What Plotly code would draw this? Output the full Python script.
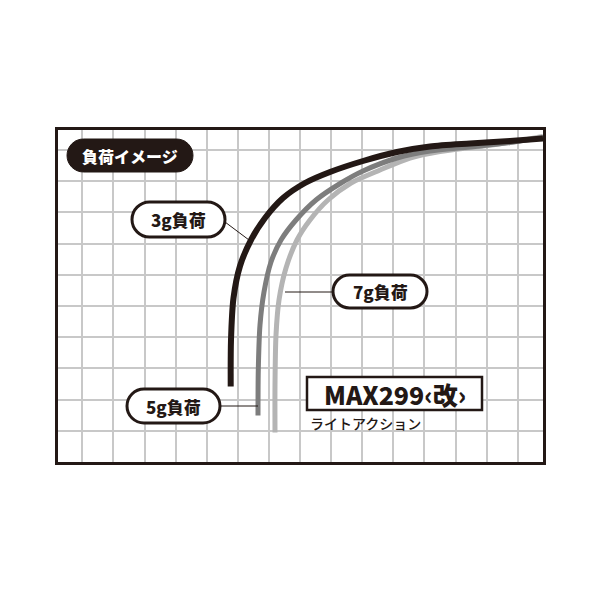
import plotly.graph_objects as go

# rod bend (x, y in picture pixels, y grows downward)
load_names = ["3g負荷", "5g負荷", "7g負荷"]

x_3g = [230.7, 231.0, 233.5, 240.0, 251.0, 265.0, 283.0, 305.0, 330.0, 363.0,
        397.0, 430.0, 470.0, 510.0, 543.0]
y_3g = [386.5, 340.0, 298.0, 266.0, 240.0, 218.0, 198.0, 183.0, 172.0, 161.0,
        152.0, 146.5, 143.5, 141.0, 138.5]

x_5g = [258.0, 258.3, 260.0, 264.0, 271.0, 281.0, 296.0, 316.0, 341.0, 363.0,
        397.0, 430.0, 470.0, 510.0, 543.0]
y_5g = [415.5, 370.0, 325.0, 292.0, 262.0, 240.0, 220.0, 200.0, 183.0, 171.0,
        158.0, 151.0, 147.0, 142.5, 137.5]

x_7g = [275.0, 275.0, 276.0, 279.0, 286.0, 297.0, 310.0, 328.0, 351.0, 380.0,
        410.0, 440.0, 475.0, 510.0, 543.0]
y_7g = [432.5, 385.0, 335.0, 300.0, 268.0, 240.0, 220.0, 200.0, 183.0, 170.0,
        158.0, 151.5, 147.0, 142.5, 136.5]

INK = "#231815"
OFF = 8  # page body margin of the browser


def pill(x0, y0, x1, y1):
    # stadium shape as an svg path (plotly shapes have no arc command)
    r = (y1 - y0) / 2
    ym = (y0 + y1) / 2
    k = 0.5523 * r
    return (f"M {x0 + r},{y0} H {x1 - r} "
            f"C {x1 - r + k},{y0} {x1},{ym - k} {x1},{ym} "
            f"C {x1},{ym + k} {x1 - r + k},{y1} {x1 - r},{y1} "
            f"H {x0 + r} "
            f"C {x0 + r - k},{y1} {x0},{ym + k} {x0},{ym} "
            f"C {x0},{ym - k} {x0 + r - k},{y0} {x0 + r},{y0} Z")


fig = go.Figure()

# light gray first so the black curve sits on top
fig.add_trace(go.Scatter(x=x_7g, y=y_7g, mode="lines", name=load_names[2],
                         line=dict(color="#b4b4b4", width=5, shape="spline", smoothing=0.8)))
fig.add_trace(go.Scatter(x=x_5g, y=y_5g, mode="lines", name=load_names[1],
                         line=dict(color="#7d7d7d", width=5, shape="spline", smoothing=0.8)))
fig.add_trace(go.Scatter(x=x_3g, y=y_3g, mode="lines", name=load_names[0],
                         line=dict(color=INK, width=6, shape="spline", smoothing=0.8)))

# leader lines
leaders = [(225, 222, 249, 240), (220, 406, 258, 406), (285, 292, 333, 292)]
for x0, y0, x1, y1 in leaders:
    fig.add_shape(type="line", x0=x0, y0=y0, x1=x1, y1=y1, xref="x", yref="y",
                  line=dict(color=INK, width=1), layer="above")

# title pill (filled) and label pills (outlined)
fig.add_shape(type="path", path=pill(67, 139, 193, 172), xref="x", yref="y",
              fillcolor=INK, line=dict(color=INK, width=1), layer="above")
label_boxes = [(132, 202, 225, 237), (127, 389, 220, 423), (333, 275, 427, 308)]
for (x0, y0, x1, y1), name in zip(label_boxes, load_names):
    fig.add_shape(type="path", path=pill(x0, y0, x1, y1), xref="x", yref="y",
                  fillcolor="white", line=dict(color=INK, width=3), layer="above")
    fig.add_annotation(x=(x0 + x1) / 2, y=(y0 + y1) / 2, text=name, showarrow=False,
                       font=dict(family="Noto Sans CJK JP", size=17, color=INK, weight=900))

fig.add_annotation(x=130, y=155.5, text="負荷イメージ", showarrow=False,
                   font=dict(family="Noto Sans CJK JP", size=16, color="white", weight=900))

# product name box
fig.add_shape(type="rect", x0=307, y0=377, x1=482, y1=410, xref="x", yref="y",
              fillcolor="white", line=dict(color=INK, width=2.5), layer="above")
fig.add_annotation(x=394.5, y=393.5, text="MAX299‹改›", showarrow=False,
                   font=dict(family="Noto Sans CJK JP", size=25, color=INK, weight=900))
fig.add_annotation(x=308, y=423, text="ライトアクション", showarrow=False, xanchor="left",
                   font=dict(family="Noto Sans CJK JP", size=14, color=INK, weight=500))

axis_common = dict(showticklabels=False, ticks="", zeroline=False,
                   showgrid=True, gridcolor="#c8c8c8", gridwidth=1.5,
                   showline=True, mirror=True, linecolor=INK, linewidth=2.5,
                   tickmode="linear")

fig.update_layout(
    width=600 - OFF, height=600 - OFF,
    margin=dict(l=58 - OFF, r=57, t=130 - OFF, b=138),
    paper_bgcolor="white", plot_bgcolor="white",
    showlegend=False,
    xaxis=dict(range=[58, 543], tick0=82.3, dtick=31.1, **axis_common),
    yaxis=dict(range=[462, 130], tick0=150, dtick=31.2, **axis_common),
)

fig.write_html("out.html")
